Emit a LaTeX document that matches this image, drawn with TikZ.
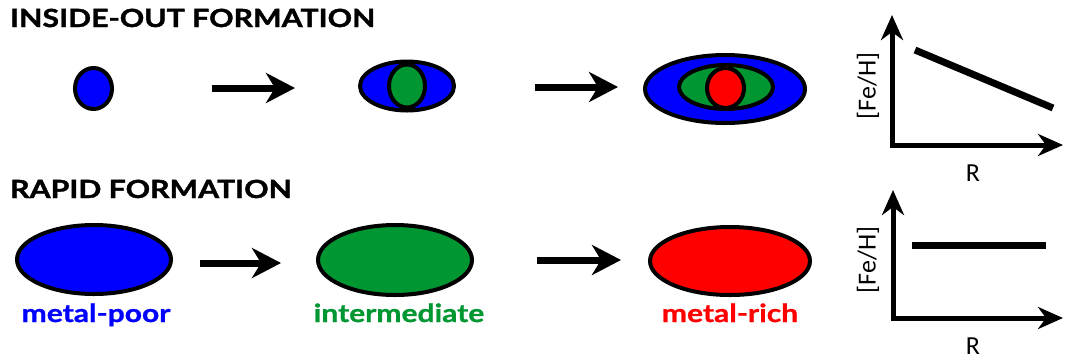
\documentclass[tikz,border=0pt]{standalone}
\usepackage{fontspec}
\setmainfont{Lato}
\newfontfamily\headfont{Lato}[FakeStretch=1.21,BoldFeatures={FakeBold=1.5}]
\newfontfamily\tagfont{Lato}[FakeStretch=1.2,BoldFeatures={FakeBold=1}]
\newfontfamily\axisfont{Carlito}
\usetikzlibrary{arrows.meta,shapes.geometric}
\definecolor{poorblue}{RGB}{0,0,255}
\definecolor{midgreen}{RGB}{0,150,50}
\definecolor{richred}{RGB}{255,0,0}

\begin{document}
\begin{tikzpicture}[x=1pt,y=-1pt,
  blob/.style={ellipse,draw=black,line width=4pt,inner sep=0pt,outer sep=0pt},
  flowarrow/.style={line width=7pt,-{Stealth[length=29pt,width=30pt,inset=9pt]}},
  axisline/.style={line width=5pt,line join=miter,
    {Stealth[length=25pt,width=22pt,inset=8pt]}-{Stealth[length=25pt,width=22pt,inset=8pt]}},
  trend/.style={line width=7pt},
  heading/.style={anchor=base west,inner sep=0pt,font=\headfont\bfseries\fontsize{25}{28}\selectfont},
  tag/.style={anchor=base,inner sep=0pt,font=\tagfont\bfseries\fontsize{25}{28}\selectfont},
  axislabel/.style={inner sep=0pt,font=\axisfont\fontsize{26}{28}\selectfont}]

\useasboundingbox (0,0) rectangle (1070,360);

% ---------- inside-out formation ----------
\node[heading] (t1) at (10,27) {INSIDE-OUT FORMATION};

\node[blob,fill=poorblue,minimum width=37pt,minimum height=41pt] (s1) at (93.5,88.5) {};

\node[blob,fill=poorblue,minimum width=94pt,minimum height=49pt] (s2b) at (407,86) {};
\node[blob,fill=midgreen,minimum width=36pt,minimum height=43pt] (s2g) at (407,86) {};

\node[blob,fill=poorblue,minimum width=160pt,minimum height=68pt] (s3b) at (725,89) {};
\node[blob,fill=midgreen,minimum width=94pt,minimum height=44pt] (s3g) at (726,87) {};
\node[blob,fill=richred,minimum width=37pt,minimum height=40pt] (s3r) at (725.5,88) {};

\coordinate (a1s) at (212,88);
\coordinate (a1e) at (295,88);
\coordinate (a2s) at (535,87);
\coordinate (a2e) at (618,87);
\draw[flowarrow] (a1s) -- (a1e);
\draw[flowarrow] (a2s) -- (a2e);

% gradient plot
\coordinate (g1o) at (892,145);
\coordinate (g1y) at (892,15);
\coordinate (g1x) at (1063,145);
\draw[axisline] (g1y) -- (g1o) -- (g1x);
\coordinate (g1a) at (915,50);
\coordinate (g1b) at (1053,108);
\draw[trend] (g1a) -- (g1b);
\node[axislabel,rotate=90] (g1yl) at (868,86) {[Fe/H]};
\node[axislabel] (g1xl) at (973,173) {R};

% ---------- rapid formation ----------
\node[heading] (t2) at (10,198) {RAPID FORMATION};

\node[blob,fill=poorblue,minimum width=154pt,minimum height=69pt] (r1) at (94,259.5) {};
\node[blob,fill=midgreen,minimum width=154pt,minimum height=70pt] (r2) at (395,260) {};
\node[blob,fill=richred,minimum width=160pt,minimum height=68pt] (r3) at (730,261) {};

\coordinate (a3s) at (200,263);
\coordinate (a3e) at (281,263);
\coordinate (a4s) at (537,260);
\coordinate (a4e) at (621,260);
\draw[flowarrow] (a3s) -- (a3e);
\draw[flowarrow] (a4s) -- (a4e);

\node[tag,text=poorblue] (l1) at (96,322) {metal-poor};
\node[tag,text=midgreen] (l2) at (399,322) {intermediate};
\node[tag,text=richred] (l3) at (730,322) {metal-rich};

% flat plot
\coordinate (g2o) at (893,318);
\coordinate (g2y) at (893,190);
\coordinate (g2x) at (1063,318);
\draw[axisline] (g2y) -- (g2o) -- (g2x);
\coordinate (g2a) at (912,245);
\coordinate (g2b) at (1046,245);
\draw[trend] (g2a) -- (g2b);
\node[axislabel,rotate=90] (g2yl) at (868,260) {[Fe/H]};
\node[axislabel] (g2xl) at (973,346) {R};
\end{tikzpicture}
\end{document}
